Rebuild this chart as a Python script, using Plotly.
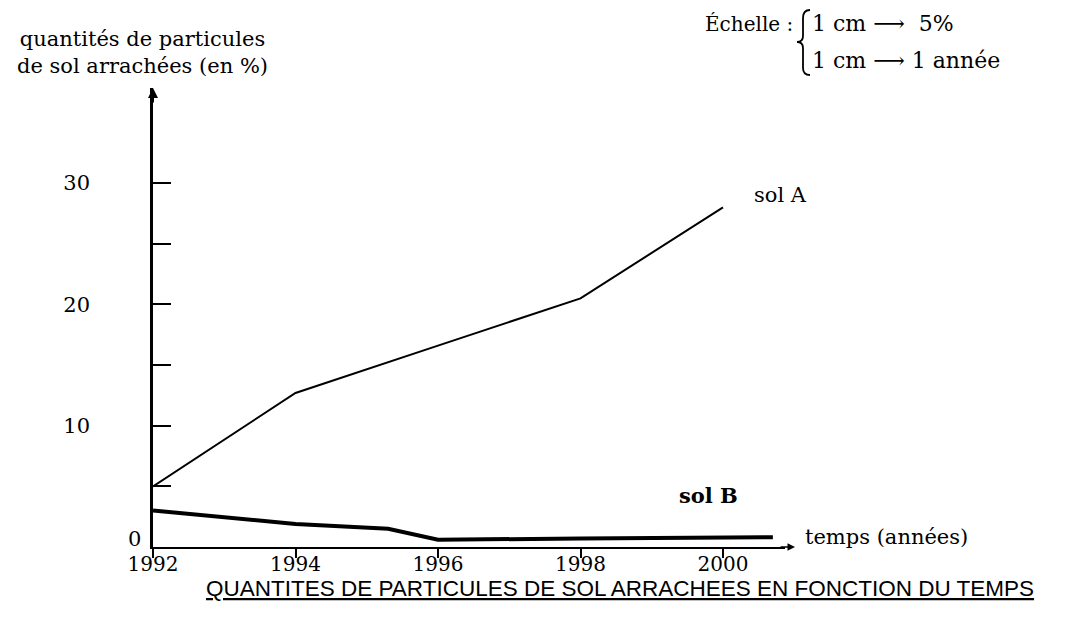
import plotly.graph_objects as go

# Soil particles washed away (%) per year
years_a = [1992, 1994, 1996, 1998, 2000]
sol_a = [5.0, 12.7, 16.6, 20.5, 28.0]

years_b = [1992, 1994, 1995.3, 1996, 1998, 2000, 2000.7]
sol_b = [3.0, 1.9, 1.5, 0.6, 0.7, 0.8, 0.8]

x_ticks = [1992, 1994, 1996, 1998, 2000]
x_labels = ["1992", "1994", "1996", "1998", "2000"]
y_ticks = [10, 20, 30]
y_labels = ["10", "20", "30"]
y_minor = [5, 15, 25]

W, H = 1072, 621
L, R, T, B = 153, 785, 88, 547          # plot area edges (px)
PX_PER_YEAR = 71.25
PX_PER_PCT = 12.13


def px(x):
    return (x - L) / (R - L)


def py(y):
    return (B - y) / (B - T)


SERIF = "DejaVu Serif"
SANS = "Liberation Sans"
INK = "black"

fig = go.Figure()
fig.add_trace(go.Scatter(x=years_a, y=sol_a, mode="lines",
                         line=dict(color=INK, width=2), name="sol A"))
fig.add_trace(go.Scatter(x=years_b, y=sol_b, mode="lines",
                         line=dict(color=INK, width=4), name="sol B"))

fig.update_layout(
    width=W, height=H,
    margin=dict(l=L, r=W - R, t=T, b=H - B, pad=0),
    paper_bgcolor="white", plot_bgcolor="white",
    showlegend=False,
    xaxis=dict(
        range=[1992, 1992 + (R - L) / PX_PER_YEAR],
        tickvals=x_ticks, ticktext=x_labels,
        ticks="outside", ticklen=9, tickwidth=1.5, tickcolor=INK,
        showline=True, linecolor=INK, linewidth=2,
        showgrid=False, zeroline=False,
        ticklabelstandoff=-11,
        tickfont=dict(family=SERIF, size=20, color=INK),
    ),
    yaxis=dict(
        range=[0, (B - T) / PX_PER_PCT],
        tickvals=y_ticks, ticktext=y_labels,
        ticks="inside", ticklen=18, tickwidth=2, tickcolor=INK,
        minor=dict(tickvals=y_minor, ticks="inside", ticklen=18,
                   tickwidth=2, tickcolor=INK, showgrid=False),
        showline=True, linecolor=INK, linewidth=2.5,
        showgrid=False, zeroline=False,
        ticklabelstandoff=56,
        tickfont=dict(family=SERIF, size=21, color=INK),
    ),
)


def label(text, x, y, size=21, family=SERIF, xanchor="center", **kw):
    fig.add_annotation(text=text, x=px(x), y=py(y), xref="paper", yref="paper",
                       showarrow=False, xanchor=xanchor, yanchor="middle",
                       font=dict(family=family, size=size, color=INK), **kw)


# origin label
label("0", 134, 539)
# axis titles
label("quantités de particules<br>de sol arrachées (en %)", 142, 52, size=21)
label("temps (années)", 803, 537, xanchor="left")
# curve labels
label("sol A", 780, 195)
label("<b>sol B</b>", 708, 495)
# scale box
label("Échelle :", 795, 24, size=20, xanchor="right")
label("1 cm\u00a0⟶\u00a0\u00a05%", 810, 24, size=22, xanchor="left")
label("1 cm\u00a0⟶\u00a01 année", 810, 60, size=22, xanchor="left")

# curly brace joining the two scale lines
brace_pts = [(810, 10), (803, 10), (803, 18), (803, 36), (803, 42), (797, 42),
             (803, 42), (803, 48), (803, 68), (803, 75), (810, 75)]
P = [f"{px(a):.5f},{py(b):.5f}" for a, b in brace_pts]
brace_path = (f"M {P[0]} Q {P[1]} {P[2]} L {P[3]} Q {P[4]} {P[5]} "
              f"Q {P[6]} {P[7]} L {P[8]} Q {P[9]} {P[10]}")
fig.add_shape(type="path", path=brace_path, xref="paper", yref="paper",
              line=dict(color=INK, width=1.8))

# caption
label("<u>QUANTITES DE PARTICULES DE SOL ARRACHEES EN FONCTION DU TEMPS</u>",
      620, 588, size=22.5, family=SANS)

# arrow heads on both axes
fig.add_annotation(x=0, y=1, xref="paper", yref="paper", text="",
                   showarrow=True, ax=0, ay=16, arrowhead=2, arrowsize=1,
                   arrowwidth=2, arrowcolor=INK, standoff=0)
fig.add_annotation(x=px(795), y=0, xref="paper", yref="paper", text="",
                   showarrow=True, ax=-16, ay=0, arrowhead=2, arrowsize=1,
                   arrowwidth=1.5, arrowcolor=INK, standoff=0)

fig.write_html("out.html")
